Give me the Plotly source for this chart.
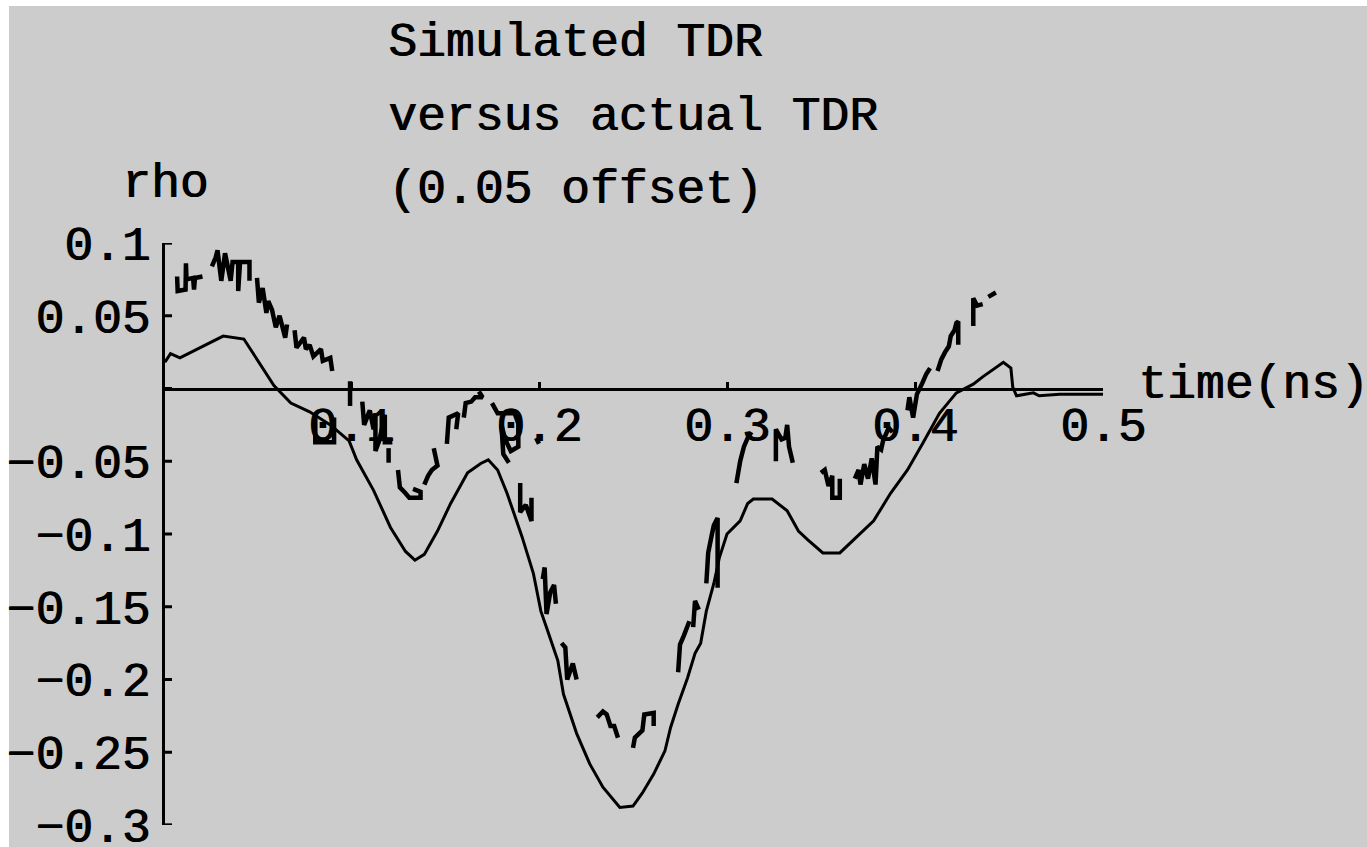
import plotly.graph_objects as go

# ---------------- data ----------------
sim_t = [0.001, 0.004, 0.009, 0.020, 0.032, 0.043, 0.048, 0.059, 0.068, 0.078, 0.089,
         0.099, 0.103, 0.112, 0.121, 0.129, 0.134, 0.139, 0.146, 0.153, 0.162, 0.169,
         0.173, 0.178, 0.183, 0.188, 0.191, 0.197, 0.201, 0.205, 0.210, 0.213, 0.220,
         0.227, 0.234, 0.243, 0.250, 0.255, 0.261, 0.267, 0.270, 0.274, 0.279, 0.283,
         0.286, 0.289, 0.293, 0.296, 0.300, 0.307, 0.311, 0.314, 0.324, 0.332, 0.338,
         0.343, 0.351, 0.360, 0.369, 0.378, 0.387, 0.396, 0.404, 0.413, 0.422, 0.431,
         0.436, 0.445, 0.447, 0.451, 0.452, 0.454, 0.463, 0.466, 0.477, 0.488, 0.500]
sim_rho = [0.018, 0.024, 0.021, 0.028, 0.036, 0.034, 0.024, 0.002, -0.010, -0.016, -0.025,
           -0.036, -0.049, -0.070, -0.0955, -0.112, -0.118, -0.114, -0.098, -0.079, -0.058, -0.0515,
           -0.049, -0.056, -0.072, -0.091, -0.102, -0.127, -0.153, -0.168, -0.187, -0.210, -0.237,
           -0.258, -0.274, -0.288, -0.287, -0.278, -0.265, -0.249, -0.233, -0.217, -0.199, -0.182,
           -0.175, -0.153, -0.134, -0.116, -0.100, -0.091, -0.079, -0.076, -0.076, -0.084, -0.098,
           -0.104, -0.113, -0.113, -0.102, -0.091, -0.072, -0.056, -0.038, -0.017, -0.003, 0.003,
           0.008, 0.016, 0.018, 0.014, 0.001, -0.005, -0.003, -0.005, -0.004, -0.004, -0.004]

# measured TDR (+0.05 offset), broken trace: None separates the visible pieces
act_t = [0.0075, 0.0078, 0.012, 0.0122, 0.0125, 0.016, 0.0165, 0.017, 0.021, None,
         0.026, 0.028, 0.029, 0.031, 0.033, 0.036, 0.037, 0.040, 0.040, 0.041, 0.046, 0.046, None,
         0.050, 0.051, 0.053, 0.055, 0.056, 0.058, 0.060, 0.062, 0.063, 0.065, 0.066, None,
         0.070, 0.071, 0.075, 0.076, 0.078, 0.080, 0.084, 0.085, 0.089, 0.090, None,
         0.081, 0.081, 0.091, 0.091, None,
         0.0995, 0.0995, None,
         0.106, 0.107, 0.110, 0.112, 0.113, 0.113, 0.115, 0.118, 0.118, 0.122, None,
         0.120, 0.120, None,
         0.125, 0.126, 0.129, 0.131, 0.137, 0.137, 0.133, None,
         0.139, 0.141, 0.143, 0.146, 0.144, None,
         0.151, 0.152, 0.157, 0.156, None,
         0.160, 0.161, 0.164, 0.166, 0.170, 0.168, None,
         0.175, 0.178, 0.181, 0.187, 0.189, 0.189, 0.185, 0.182, 0.180, 0.181, 0.184, None,
         0.1985, 0.200, None,
         0.190, 0.190, 0.193, 0.196, 0.196, None,
         0.202, 0.203, 0.204, 0.206, 0.208, 0.209, None,
         0.212, 0.214, 0.215, 0.218, 0.220, None,
         0.231, 0.234, 0.236, 0.238, 0.240, 0.242, None,
         0.250, 0.251, 0.255, 0.256, 0.261, 0.261, None,
         0.274, 0.275, 0.277, 0.279, 0.280, None,
         0.282, 0.283, 0.285, None,
         0.289, 0.290, 0.292, 0.293, 0.295, 0.295, None,
         0.305, 0.307, 0.309, 0.311, 0.313, None,
         0.326, 0.326, 0.329, 0.331, 0.332, 0.333, 0.335, None,
         0.350, 0.352, 0.354, 0.356, 0.356, 0.360, 0.360, None,
         0.368, 0.370, 0.371, 0.373, 0.375, 0.377, 0.379, 0.380, 0.382, 0.383, 0.386, 0.388, None,
         0.396, 0.397, 0.399, 0.401, 0.404, 0.406, 0.408, None,
         0.412, 0.414, 0.416, 0.418, 0.419, 0.421, 0.422, 0.423, 0.423, None,
         0.431, 0.431, 0.433, 0.436, None,
         0.439, 0.443]
act_rho = [0.077, 0.067, 0.068, 0.086, 0.075, 0.076, 0.068, 0.076, 0.077, None,
           0.084, 0.090, 0.095, 0.074, 0.093, 0.074, 0.087, 0.087, 0.067, 0.087, 0.087, 0.074, None,
           0.076, 0.059, 0.069, 0.052, 0.060, 0.054, 0.042, 0.050, 0.045, 0.035, 0.044, None,
           0.040, 0.028, 0.035, 0.027, 0.030, 0.022, 0.027, 0.019, 0.021, 0.012, None,
           -0.018, -0.037, -0.037, -0.020, None,
           0.005, -0.012, None,
           -0.009, -0.025, -0.015, -0.028, -0.017, -0.043, -0.036, -0.018, -0.037, -0.037, None,
           -0.041, -0.051, None,
           -0.056, -0.068, -0.072, -0.075, -0.075, -0.071, -0.069, None,
           -0.066, -0.060, -0.056, -0.053, -0.041, None,
           -0.038, -0.020, -0.017, -0.028, None,
           -0.020, -0.010, -0.009, -0.006, -0.006, -0.002, None,
           -0.010, -0.017, -0.017, -0.017, -0.024, -0.040, -0.043, -0.035, -0.025, -0.045, -0.051, None,
           -0.034, -0.038, None,
           -0.065, -0.085, -0.080, -0.091, -0.075, None,
           -0.131, -0.123, -0.155, -0.140, -0.135, -0.148, None,
           -0.175, -0.178, -0.200, -0.189, -0.200, None,
           -0.226, -0.222, -0.224, -0.232, -0.232, -0.240, None,
           -0.247, -0.240, -0.235, -0.224, -0.223, -0.232, None,
           -0.195, -0.176, -0.170, -0.162, -0.160, None,
           -0.164, -0.146, -0.152, None,
           -0.134, -0.113, -0.100, -0.094, -0.089, -0.137, None,
           -0.065, -0.050, -0.040, -0.034, -0.030, None,
           -0.050, -0.028, -0.035, -0.034, -0.025, -0.040, -0.051, None,
           -0.058, -0.056, -0.067, -0.060, -0.075, -0.075, -0.062, None,
           -0.062, -0.056, -0.066, -0.052, -0.062, -0.048, -0.066, -0.040, -0.042, -0.036, -0.027, -0.030, None,
           -0.015, -0.006, -0.020, -0.004, 0.004, 0.010, 0.014, None,
           0.012, 0.020, 0.025, 0.029, 0.036, 0.040, 0.045, 0.046, 0.030, None,
           0.043, 0.062, 0.057, 0.058, None,
           0.063, 0.066]

x_ticks = [0.1, 0.2, 0.3, 0.4, 0.5]
x_labels = ["0.1", "0.2", "0.3", "0.4", "0.5"]
y_ticks = [-0.2999, -0.25, -0.2, -0.15, -0.1, -0.05, 0.0, 0.05, 0.0999]
y_labels = ["\u22120.3", "\u22120.25", "\u22120.2", "\u22120.15", "\u22120.1", "\u22120.05", "", "0.05", "0.1"]
title_lines = ["Simulated TDR", "versus actual TDR", "(0.05 offset)"]
x_label = "time(ns)"
y_label = "rho"

# ---------------- layout geometry ----------------
W, H = 1367, 847
L, R, T, B = 163, 264, 243, 22
PW, PH = W - L - R, H - T - B
FS = 48
TXT = dict(family="Liberation Mono", size=FS, color="black", shadow="1px 0px 0px black")
Y_TICKLEN = 9


def pxx(x):
    return (x - L) / PW


def pxy(y):
    return (H - B - y) / PH


fig = go.Figure()
fig.add_trace(go.Scatter(x=sim_t, y=sim_rho, mode="lines",
                         line=dict(color="black", width=3), hoverinfo="skip"))
fig.add_trace(go.Scatter(x=act_t, y=act_rho, mode="lines", connectgaps=False,
                         line=dict(color="black", width=4.5), hoverinfo="skip"))

shapes = [dict(type="rect", xref="paper", yref="paper", layer="below",
               x0=pxx(9), x1=pxx(W + 5), y0=pxy(H + 5), y1=pxy(6),
               fillcolor="#cccccc", line=dict(width=0))]
# inward tick marks on the vertical axis, placed at the y tick values
for tv in y_ticks:
    shapes.append(dict(type="line", xref="x domain", yref="y", x0=0, x1=Y_TICKLEN / PW,
                       y0=tv, y1=tv, line=dict(color="black", width=3), layer="above"))

fig.update_layout(
    width=W, height=H, showlegend=False,
    margin=dict(l=L, r=R, t=T, b=B, pad=0),
    paper_bgcolor="white", plot_bgcolor="rgba(0,0,0,0)",
    font=TXT,
    xaxis=dict(range=[0, 0.5], anchor="free", position=0.75, showgrid=False, zeroline=False,
               showline=True, linecolor="black", linewidth=3, ticks="inside", ticklen=6,
               tickwidth=3, tickcolor="black", tickvals=x_ticks, showticklabels=False,
               automargin=False, fixedrange=True),
    yaxis=dict(range=[-0.3, 0.1], domain=[0, 1], anchor="free", position=0, side="left",
               showgrid=False, zeroline=False,
               showline=True, linecolor="black", linewidth=3, ticks="",
               tickvals=y_ticks, ticktext=y_labels,
               tickfont=TXT, ticklabelstandoff=2, ticklabeloverflow="allow",
               automargin=False, fixedrange=True),
    shapes=shapes,
)

ann = []
for tv, tl in zip(x_ticks, x_labels):
    ann.append(dict(text=tl, xref="x", yref="paper", x=tv, y=pxy(428),
                    xanchor="center", yanchor="middle", showarrow=False, font=TXT))
for line_text, yc in zip(title_lines, [43, 117, 190]):
    ann.append(dict(text=line_text, xref="paper", yref="paper", x=pxx(386), y=pxy(yc),
                    xanchor="left", yanchor="middle", showarrow=False, font=TXT))
ann.append(dict(text=y_label, xref="paper", yref="paper", x=pxx(165), y=pxy(184),
                xanchor="center", yanchor="middle", showarrow=False, font=TXT))
ann.append(dict(text=x_label, xref="paper", yref="paper", x=pxx(1136), y=pxy(385),
                xanchor="left", yanchor="middle", showarrow=False, font=TXT))
fig.update_layout(annotations=ann)

fig.write_html("out.html", config={"displayModeBar": False},
               post_script="document.body.style.margin='0px';")
